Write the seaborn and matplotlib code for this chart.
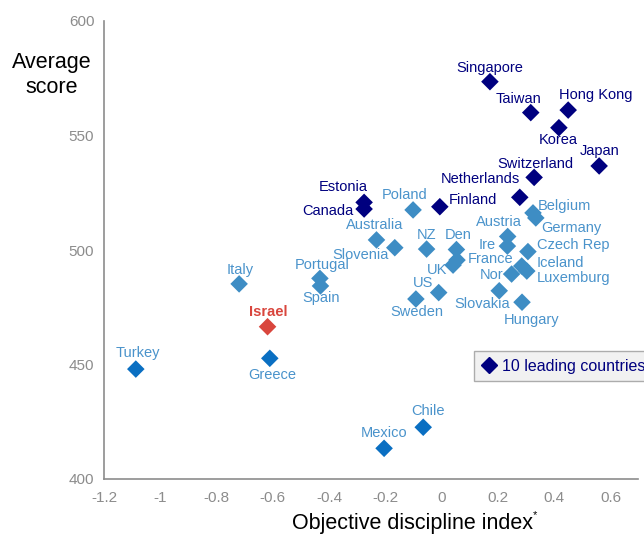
import matplotlib
matplotlib.use("Agg")
import matplotlib.pyplot as plt
from matplotlib.lines import Line2D
import seaborn as sns
import pandas as pd

# ---------------- data ----------------
countries = ["Singapore", "Taiwan", "Hong Kong", "Korea", "Japan", "Switzerland",
             "Netherlands", "Finland", "Estonia", "Canada",
             "Poland", "Belgium", "Germany", "Australia", "Slovenia", "NZ", "Den",
             "Austria", "Ire", "Czech Rep", "France", "UK", "Iceland", "Luxemburg",
             "Nor", "Portugal", "Spain", "US", "Sweden", "Slovakia", "Hungary", "Italy",
             "Israel", "Greece", "Turkey", "Chile", "Mexico"]
discipline = [0.171, 0.316, 0.449, 0.416, 0.559, 0.328,
              0.277, -0.007, -0.276, -0.276,
              -0.102, 0.324, 0.334, -0.232, -0.167, -0.054, 0.052,
              0.234, 0.233, 0.306, 0.054, 0.040, 0.284, 0.302,
              0.248, -0.433, -0.431, -0.011, -0.092, 0.204, 0.285, -0.720,
              -0.619, -0.611, -1.087, -0.066, -0.205]
score = [573.5, 560.0, 561.1, 553.4, 536.7, 531.7,
         523.0, 518.9, 520.8, 517.9,
         517.5, 516.2, 514.0, 504.4, 501.0, 500.4, 500.2,
         505.9, 501.7, 499.3, 495.6, 493.4, 493.0, 490.8,
         489.5, 487.6, 484.3, 481.4, 478.6, 482.2, 477.2, 485.2,
         466.5, 452.7, 448.0, 422.6, 413.4]
group = (["leading"] * 10 + ["other"] * 22 + ["israel"] + ["low"] * 4)

x_ticks = [-1.2, -1.0, -0.8, -0.6, -0.4, -0.2, 0.0, 0.2, 0.4, 0.6]
x_tick_labels = ["-1.2", "-1", "-0.8", "-0.6", "-0.4", "-0.2", "0", "0.2", "0.4", "0.6"]
y_ticks = [400, 450, 500, 550, 600]

# label offsets in pixels (layout only)
offsets = {
    "Singapore": (0, 14), "Taiwan": (-12, 14), "Hong Kong": (28, 15), "Korea": (-1, -12),
    "Japan": (0, 15), "Switzerland": (1, 13), "Netherlands": (-39, 18), "Finland": (33, 7),
    "Estonia": (-21, 15), "Canada": (-36, -2), "Poland": (-8, 15), "Belgium": (31, 7),
    "Germany": (36, -10), "Australia": (-2, 15), "Slovenia": (-34, -7), "NZ": (0, 14),
    "Den": (2, 15), "Austria": (-9, 14), "Ire": (-20, 1), "Czech Rep": (45, 7),
    "France": (34, 1), "UK": (-16, -5), "Iceland": (39, 3), "Luxemburg": (47, -7),
    "Nor": (-20, -1), "Portugal": (2, 13), "Spain": (1, -12), "US": (-16, 10),
    "Sweden": (1, -13), "Slovakia": (-17, -13), "Hungary": (10, -18), "Italy": (1, 14),
    "Israel": (1, 15), "Greece": (2, -17), "Turkey": (2, 16), "Chile": (5, 16),
    "Mexico": (0, 15),
}

NAVY = "#00007F"
MID = "#3E8DC4"
DARK = "#0A6FC2"
RED = "#D9463D"
marker_colors = {"leading": NAVY, "other": MID, "israel": RED, "low": DARK}
label_colors = {"leading": NAVY, "other": "#4A93CB", "israel": RED, "low": "#4A93CB"}

df = pd.DataFrame({"country": countries, "x": discipline, "y": score, "group": group})

# ---------------- figure ----------------
sns.set_style("white")
plt.rcParams["font.family"] = ["Liberation Sans", "DejaVu Sans"]

fig = plt.figure(figsize=(6.44, 5.38), dpi=100)
ax = fig.add_axes([104 / 644, 1 - 479 / 538, (638 - 104) / 644, (479 - 21) / 538])

sns.scatterplot(data=df, x="x", y="y", hue="group", palette=marker_colors,
                marker="D", s=80, linewidth=0, legend=False, ax=ax, zorder=3)

for c, xv, yv, g in zip(countries, discipline, score, group):
    dx, dy = offsets[c]
    ax.annotate(c, (xv, yv), xytext=(dx, dy), textcoords="offset pixels",
                ha="center", va="center", fontsize=10.5, color=label_colors[g],
                fontweight="bold" if g == "israel" else "normal", zorder=4)

ax.set_xlim(-1.2, 0.697)
ax.set_ylim(400, 600)
ax.set_xticks(x_ticks)
ax.set_xticklabels(x_tick_labels)
ax.set_yticks(y_ticks)
ax.set_xlabel("")
ax.set_ylabel("")

for s in ["top", "right"]:
    ax.spines[s].set_visible(False)
for s in ["left", "bottom"]:
    ax.spines[s].set_color("#8C8C8C")
    ax.spines[s].set_linewidth(1.2)
ax.tick_params(axis="both", colors="#8C8C8C", labelcolor="#8C8C8C", labelsize=11,
               length=4, width=1, direction="out")
ax.tick_params(axis="x", pad=5)
ax.tick_params(axis="y", pad=3)
ax.grid(False)

fig.text(52 / 644, 1 - 75 / 538, "Average\nscore", ha="center", va="center",
         fontsize=15.5, color="black", linespacing=1.3)
fig.text(413 / 644, 1 - 524 / 538, "Objective discipline index", ha="center",
         va="center", fontsize=15.5, color="black")
fig.text(533 / 644, 1 - 515 / 538, "*", ha="left", va="center", fontsize=8, color="black")

handle = Line2D([], [], marker="D", linestyle="none", color=NAVY, markersize=8)
leg = ax.legend([handle], ["10 leading countries"], loc="center left",
                bbox_to_anchor=(474 / 644, 1 - 366 / 538), bbox_transform=fig.transFigure,
                frameon=True, fancybox=False, fontsize=11.5, handletextpad=0.3,
                handlelength=1.0, borderpad=0.45, borderaxespad=0)
leg.get_frame().set_facecolor("#EEEEEE")
leg.get_frame().set_edgecolor("#999999")
leg.get_frame().set_linewidth(1.0)
for t in leg.get_texts():
    t.set_color(NAVY)

fig.savefig("out.png", dpi=100)
